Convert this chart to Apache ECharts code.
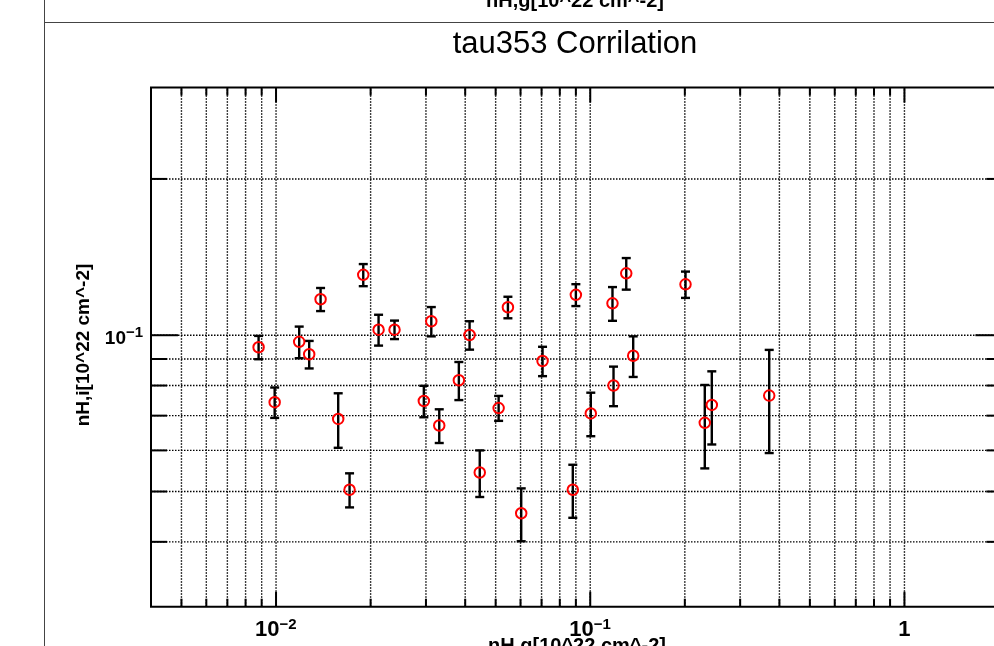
<!DOCTYPE html>
<html><head><meta charset="utf-8">
<script src="https://cdn.jsdelivr.net/npm/echarts@6/dist/echarts.min.js"></script>
<style>html,body{margin:0;padding:0;background:#fff}#c{width:994px;height:646px}</style>
</head><body><div id="c"></div>
<script>
// ---- data ----
const xValues = [0.0088,0.0099,0.01185,0.01275,0.01386,0.01577,0.01714,0.01895,0.0212,0.02383,0.0312,0.02954,0.03307,0.03818,0.0413,0.0445,0.0511,0.0547,0.0603,0.0705,0.0880,0.0900,0.1004,0.1177,0.1186,0.1302,0.1370,0.201,0.2315,0.2437,0.3712];
const yValues = [0.0948,0.0743,0.0971,0.0919,0.1173,0.0690,0.0504,0.1307,0.1025,0.1025,0.1064,0.0747,0.0670,0.0819,0.1001,0.0544,0.0724,0.1132,0.0454,0.0892,0.0504,0.1196,0.0707,0.1152,0.0800,0.1316,0.0913,0.1253,0.0678,0.0734,0.0765];
const yErrors = [0.0049,0.0050,0.0068,0.0056,0.0060,0.0083,0.0038,0.0064,0.0070,0.0042,0.0069,0.0052,0.0050,0.0069,0.0063,0.0056,0.0040,0.0054,0.0053,0.0058,0.0059,0.0058,0.0068,0.0086,0.0070,0.0092,0.0082,0.0073,0.0124,0.0118,0.0172];

const xRange = [0.004, 2.05];
const yRange = [0.03, 0.3];
const xGridValues = [0.005,0.006,0.007,0.008,0.009,0.01,0.02,0.03,0.04,0.05,0.06,0.07,0.08,0.09,0.1,0.2,0.3,0.4,0.5,0.6,0.7,0.8,0.9,1];
const xMajorValues = [0.01,0.1,1];
const yGridValues = [0.04,0.05,0.06,0.07,0.08,0.09,0.1,0.2];
const yMajorValues = [0.1];
const xTickLabelValues = [0.01,0.1,1];
const xTickLabelBase = ['10','10','1'];
const xTickLabelExp = ['\u22122','\u22121',''];
const yTickLabelValues = [0.1];
const yTickLabelBase = ['10'];
const yTickLabelExp = ['\u22121'];

const titleText = 'tau353 Corrilation';
const xTitle = 'nH,g[10^22 cm^-2]';
const yTitle = 'nH,i[10^22 cm^-2]';
const prevPadTitle = 'nH,g[10^22 cm^-2]';

const FONT = '"Liberation Sans", Arial, Helvetica, sans-serif';
const chart = echarts.init(document.getElementById('c'));

function txt(t, x, y, font, align, valign) {
  return {type:'text', style:{text:t, x:x, y:y, font:font, fill:'#000',
    textAlign:align, textVerticalAlign:valign, align:align, verticalAlign:valign}};
}
const DOT = {stroke:'#000', lineWidth:1.4, lineDash:[1.5,1.5]};

function renderXGrid(params, api) {
  const v = api.value(0);
  const b = api.coord([v, yRange[0]]);
  const t = api.coord([v, yRange[1]]);
  const major = xMajorValues.indexOf(v) >= 0;
  const len = major ? 15 : 8;
  return {type:'group', children:[
    {type:'line', shape:{x1:b[0],y1:b[1],x2:t[0],y2:t[1]}, style:DOT},
    {type:'line', shape:{x1:b[0],y1:b[1],x2:b[0],y2:b[1]-len}, style:{stroke:'#000', lineWidth:2}},
    {type:'line', shape:{x1:t[0],y1:t[1],x2:t[0],y2:t[1]+len}, style:{stroke:'#000', lineWidth:2}}
  ]};
}
function renderYGrid(params, api) {
  const v = api.value(1);
  const l = api.coord([xRange[0], v]);
  const r = api.coord([xRange[1], v]);
  const major = yMajorValues.indexOf(v) >= 0;
  const len = major ? 27 : 16;
  return {type:'group', children:[
    {type:'line', shape:{x1:l[0],y1:l[1],x2:r[0],y2:r[1]}, style:DOT},
    {type:'line', shape:{x1:l[0],y1:l[1],x2:l[0]+len,y2:l[1]}, style:{stroke:'#000', lineWidth:2}},
    {type:'line', shape:{x1:r[0],y1:r[1],x2:r[0]-len,y2:r[1]}, style:{stroke:'#000', lineWidth:2}}
  ]};
}
function renderErr(params, api) {
  const x = api.value(0), y = api.value(1), e = api.value(2);
  const top = api.coord([x, y + e]);
  const bot = api.coord([x, y - e]);
  const w = 4.5;
  const st = {stroke:'#000', lineWidth:2.4};
  return {type:'group', children:[
    {type:'line', shape:{x1:top[0],y1:top[1],x2:bot[0],y2:bot[1]}, style:st},
    {type:'line', shape:{x1:top[0]-w,y1:top[1],x2:top[0]+w,y2:top[1]}, style:st},
    {type:'line', shape:{x1:bot[0]-w,y1:bot[1],x2:bot[0]+w,y2:bot[1]}, style:st}
  ]};
}
function renderXLabel(params, api) {
  const i = params.dataIndex;
  const p = api.coord([api.value(0), yRange[0]]);
  const base = xTickLabelBase[i], ex = xTickLabelExp[i];
  if (!ex) return {type:'group', children:[txt(base, p[0], p[1]+23, 'bold 22px ' + FONT, 'center', 'middle')]};
  return {type:'group', children:[
    txt(base, p[0]+3.5, p[1]+23, 'bold 22px ' + FONT, 'right', 'middle'),
    txt(ex, p[0]+3.5, p[1]+18, 'bold 15px ' + FONT, 'left', 'middle')
  ]};
}
function renderYLabel(params, api) {
  const i = params.dataIndex;
  const p = api.coord([xRange[0], api.value(1)]);
  return {type:'group', children:[
    txt(yTickLabelBase[i], p[0]-25, p[1]+4, 'bold 19px ' + FONT, 'right', 'middle'),
    txt(yTickLabelExp[i], p[0]-25, p[1]-2.5, 'bold 15px ' + FONT, 'left', 'middle')
  ]};
}

const option = {
  animation: false,
  backgroundColor: '#fff',
  grid: {left:151, top:87.5, width:851.4, height:519.2, show:true, borderColor:'#000', borderWidth:2,
         backgroundColor:'transparent', containLabel:false, outerBoundsMode:'none'},
  xAxis: {type:'log', logBase:10, min:xRange[0], max:xRange[1],
          axisLine:{show:false}, axisTick:{show:false}, axisLabel:{show:false}, splitLine:{show:false}},
  yAxis: {type:'log', logBase:10, min:yRange[0], max:yRange[1],
          axisLine:{show:false}, axisTick:{show:false}, axisLabel:{show:false}, splitLine:{show:false}},
  graphic: {elements:[
    {type:'line', shape:{x1:44.5,y1:0,x2:44.5,y2:646}, style:{stroke:'#444', lineWidth:1}},
    {type:'line', shape:{x1:44,y1:22.5,x2:994,y2:22.5}, style:{stroke:'#444', lineWidth:1}},
    {type:'text', x:575, y:1, style:{text:prevPadTitle, font:'bold 20px ' + FONT, fill:'#000', textAlign:'center', textVerticalAlign:'middle', align:'center', verticalAlign:'middle'}},
    {type:'text', x:575, y:44.5, style:{text:titleText, font:'normal 31px ' + FONT, fill:'#000', textAlign:'center', textVerticalAlign:'middle', align:'center', verticalAlign:'middle'}},
    {type:'text', x:577, y:646, style:{text:xTitle, font:'bold 20px ' + FONT, fill:'#000', textAlign:'center', textVerticalAlign:'middle', align:'center', verticalAlign:'middle'}},
    {type:'text', x:84, y:345, rotation:Math.PI/2, style:{text:yTitle, font:'bold 19px ' + FONT, fill:'#000', textAlign:'center', textVerticalAlign:'middle', align:'center', verticalAlign:'middle'}}
  ]},
  series: [
    {type:'custom', name:'xgrid', silent:true, z:1, renderItem:renderXGrid, data:xGridValues.map(v => [v, yRange[0]])},
    {type:'custom', name:'ygrid', silent:true, z:1, renderItem:renderYGrid, data:yGridValues.map(v => [xRange[0], v])},
    {type:'custom', name:'xlabels', silent:true, z:3, renderItem:renderXLabel, data:xTickLabelValues.map(v => [v, yRange[0]])},
    {type:'custom', name:'ylabels', silent:true, z:3, renderItem:renderYLabel, data:yTickLabelValues.map(v => [xRange[0], v])},
    {type:'custom', name:'errors', silent:true, z:4, renderItem:renderErr,
     encode:{x:0, y:1}, data:xValues.map((x, i) => [x, yValues[i], yErrors[i]])},
    {type:'scatter', name:'points', silent:true, z:5, symbol:'circle', symbolSize:10.5,
     itemStyle:{color:'rgba(0,0,0,0)', borderColor:'#ff0000', borderWidth:2, opacity:1},
     data:xValues.map((x, i) => [x, yValues[i]])}
  ]
};
chart.setOption(option);
</script></body></html>
